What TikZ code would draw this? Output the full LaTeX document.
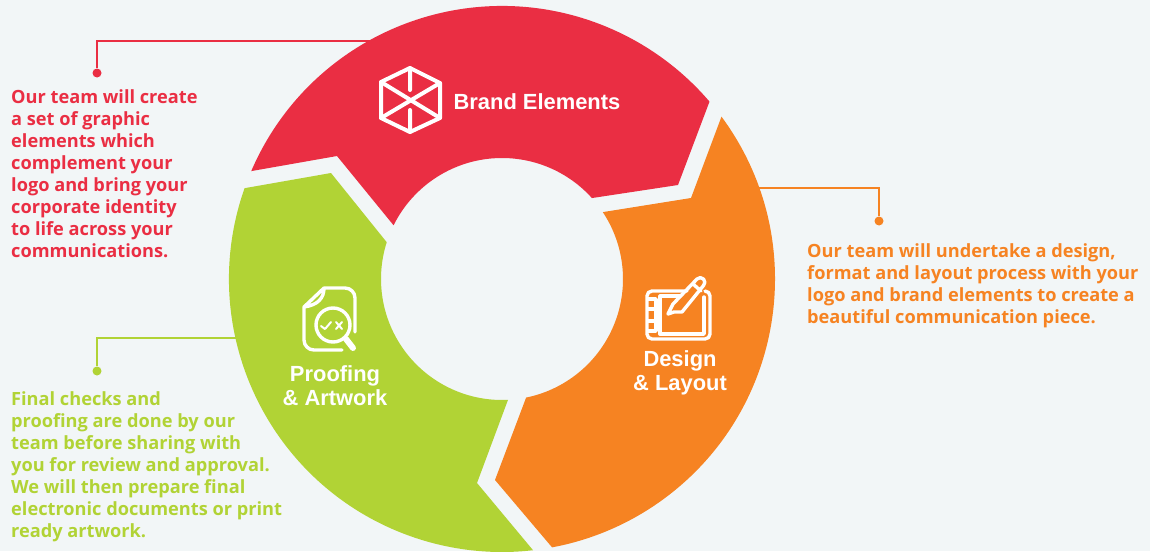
\documentclass[tikz,border=0pt]{standalone}
\usepackage{fontspec}
\setmainfont{Open Sans}[BoldFont={Open Sans Bold}]
\newfontfamily\headfont{Liberation Sans}
\definecolor{bgc}{HTML}{F2F6F7}
\definecolor{redc}{HTML}{EA2E43}
\definecolor{orangec}{HTML}{F68322}
\definecolor{greenc}{HTML}{B1D335}
\tikzset{
  lead/.style={line width=1.15pt},
  dotm/.style={circle,fill,inner sep=0pt,minimum size=9pt},
  body/.style={anchor=north west,align=left,inner sep=0pt,font=\fontsize{18.2}{22}\selectfont\bfseries},
  head/.style={text=white,align=center,inner sep=0pt,font=\fontsize{21.9}{23.5}\headfont\bfseries},
  icon/.style={draw=white,line width=4pt,line join=round,line cap=round},
  iconthin/.style={draw=white,line width=3.4pt,line join=round,line cap=round},
}
\begin{document}
\begin{tikzpicture}[x=1pt,y=-1pt]
\useasboundingbox (0,0) rectangle (1150,551);
\fill[bgc] (0,0) rectangle (1150,551);
\coordinate (c) at (502,279);
% leader lines
\coordinate (rs) at (372,41); \coordinate (rk) at (97,41);
\node[dotm,fill=redc] (rd) at (97,73) {};
\draw[lead,draw=redc] (rs) -- (rk) -- (rd);
\coordinate (os) at (758,188); \coordinate (ok) at (879,188);
\node[dotm,fill=orangec] (od) at (879,221) {};
\draw[lead,draw=orangec] (os) -- (ok) -- (od);
\coordinate (gs) at (238,338); \coordinate (gk) at (97,338);
\node[dotm,fill=greenc] (gd) at (97,371) {};
\draw[lead,draw=greenc] (gs) -- (gk) -- (gd);
% ring segments
\fill[redc] ([shift={(c)}]-156.72:273) arc[start angle=156.72,end angle=40.53,radius=273pt]
  -- (678,185) -- ([shift={(c)}]-41.99:121) arc[start angle=41.99,end angle=153.65,radius=121pt]
  -- (337,156) -- cycle;
\fill[orangec] ([shift={(c)}]-36.49:273) arc[start angle=36.49,end angle=-79.43,radius=273pt]
  -- (495,480) -- ([shift={(c)}]78.5:121) arc[start angle=-78.5,end angle=33.56,radius=121pt]
  -- (691,198) -- cycle;
\fill[greenc] ([shift={(c)}]-160.57:273) arc[start angle=160.57,end angle=276.53,radius=273pt]
  -- (477,483) -- ([shift={(c)}]-272.84:121) arc[start angle=272.84,end angle=162.31,radius=121pt]
  -- (331,173) -- cycle;
% cube icon
\draw[icon] (410,68) -- (440,83) -- (440,118) -- (410,132) -- (381,118) -- (381,82) -- cycle;
\draw[icon] (381,82) -- (440,118) (440,83) -- (381,118) (410,68) -- (410,90) (410,110) -- (410,132);
% tablet icon
\draw[iconthin] (687,291) -- (652,291) arc[start angle=90,end angle=180,radius=5pt] -- (647,334)
  arc[start angle=180,end angle=270,radius=5pt] -- (705,339) arc[start angle=270,end angle=360,radius=5pt] -- (710,296)
  arc[start angle=0,end angle=90,radius=5pt];
\draw[iconthin] (660,296) -- (660,334) -- (704,334) -- (704,297) (660,296) -- (680,296);
\draw[iconthin] (648,299) -- (656,299) -- (656,331) -- (648,331) (648,309) -- (656,309) (648,321) -- (656,321);
\draw[iconthin] (668,314) -- (673,304) -- (697,279) arc[start angle=135,end angle=-45,radius=4.6pt] -- (682,312) -- (674,312) -- cycle
  (693,284) -- (701,291);
% document icon
\draw[iconthin] (324,288) -- (345,288) arc[start angle=90,end angle=0,radius=10pt] -- (355,332)
  (342,350) -- (314,350) arc[start angle=270,end angle=180,radius=10pt] -- (304,307) -- (324,288)
  .. controls (324,298) and (318,305) .. (304,307);
\draw[iconthin] (333,325) circle[radius=17pt];
\draw[draw=white,line width=6pt,line cap=round] (346,339) -- (353,348);
\draw[draw=white,line width=2pt,line cap=round,line join=round] (321,326) -- (325,329) -- (331,322) (336,322) -- (342,329) (342,322) -- (336,329);
% headings
\node[head] (t1) at (537,101.5) {Brand Elements};
\node[head] (t2) at (680,373) {Design\\\& Layout};
\node[head] (t3) at (335,385.5) {Proofing\\\& Artwork};
% body text
\node[body,text=redc] (b1) at (11,89) {Our team will create\\a set of graphic\\elements which\\complement your\\logo and bring your\\corporate identity\\to life across your\\communications.};
\node[body,text=orangec] (b2) at (807,243) {Our team will undertake a design,\\format and layout process with your\\logo and brand elements to create a\\beautiful communication piece.};
\node[body,text=greenc] (b3) at (11,391) {Final checks and\\proofing are done by our\\team before sharing with\\you for review and approval.\\We will then prepare final\\electronic documents or print\\ready artwork.};
\end{tikzpicture}
\end{document}
